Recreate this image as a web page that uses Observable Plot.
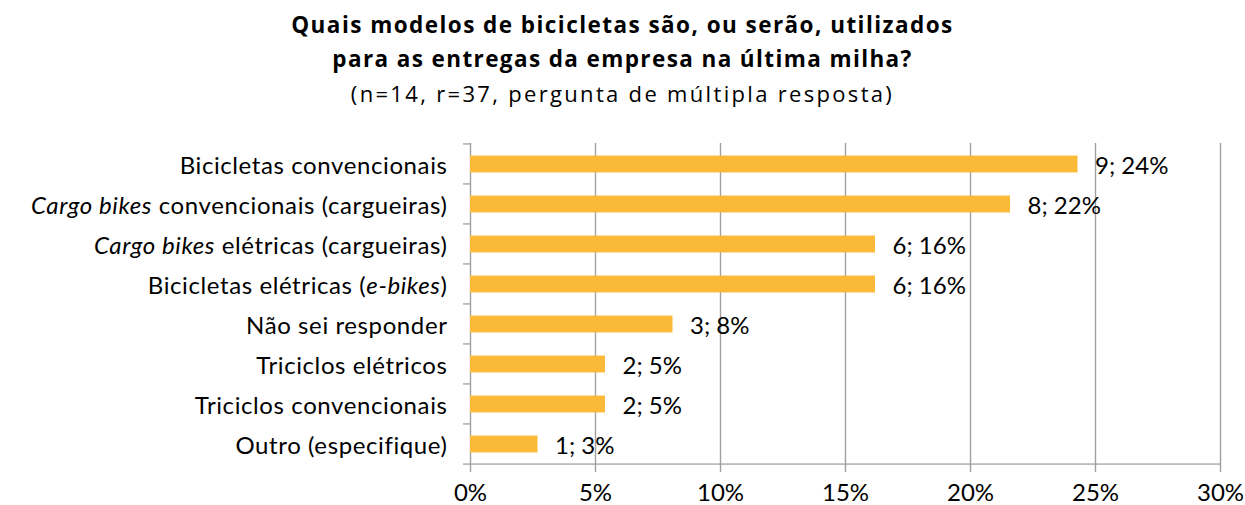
<!DOCTYPE html>
<html><head><meta charset="utf-8">
<script src="https://cdn.jsdelivr.net/npm/d3@7"></script>
<script src="https://cdn.jsdelivr.net/npm/@observablehq/plot@0.6"></script>
<style>
body{margin:0;background:#fff;font-family:Lato, sans-serif;color:#000;width:1245px;overflow:hidden}
#title{height:115px;text-align:center;box-sizing:border-box;padding-top:8.3px;font-family:"Open Sans", sans-serif}
#title .ln{display:block;line-height:34px;height:34px;white-space:nowrap}
#title .ln span{display:inline-block}
#title .b{font-weight:700;font-size:22.5px}
#title .r{font-weight:400;font-size:22px}
</style></head><body>
<div id="title">
  <div class="ln b"><span data-w="661">Quais modelos de bicicletas são, ou serão, utilizados</span></div>
  <div class="ln b"><span data-w="579">para as entregas da empresa na última milha?</span></div>
  <div class="ln r"><span data-w="541">(n=14, r=37, pergunta de múltipla resposta)</span></div>
</div>
<div id="chart"></div>
<script>
const categories = [
  "Bicicletas convencionais",
  "Cargo bikes convencionais (cargueiras)",
  "Cargo bikes elétricas (cargueiras)",
  "Bicicletas elétricas (e-bikes)",
  "Não sei responder",
  "Triciclos elétricos",
  "Triciclos convencionais",
  "Outro (especifique)"
];
const italicParts = ["Cargo bikes", "e-bikes"];
const counts = [9, 8, 6, 6, 3, 2, 2, 1];
const percents = [24.3, 21.6, 16.2, 16.2, 8.1, 5.4, 5.4, 2.7];
const pctLabels = [24, 22, 16, 16, 8, 5, 5, 3];
const xTicks = [0, 5, 10, 15, 20, 25, 30];

const data = categories.map((c, i) => ({cat: c, value: percents[i], label: `${counts[i]}; ${pctLabels[i]}%`}));

const W = 1245, H = 390, mT = 28, mB = 41, mL = 470, mR = 25;
const bw = (H - mT - mB) / categories.length;
const barH = 17;
const gray = "#a0a0a0";
const fs = 24;
const lw = 1.4;
const tickLen = 0.28; // in x units (percent)

const chart = Plot.plot({
  width: W, height: H,
  marginTop: mT, marginBottom: mB, marginLeft: mL, marginRight: mR,
  style: {fontFamily: "Lato, sans-serif", fontSize: fs + "px", color: "#000", background: "#fff"},
  x: {domain: [0, 30], axis: null},
  y: {domain: categories, padding: 0, axis: null},
  marks: [
    Plot.ruleX(xTicks.filter(d => d > 0), {stroke: gray, strokeWidth: lw}),
    Plot.ruleX([0], {stroke: gray, strokeWidth: lw}),
    // category boundary ticks on the y axis (top edge of each band)
    Plot.barX(categories, {y: d => d, x1: () => -tickLen, x2: () => 0, fill: gray, insetTop: -lw / 2, insetBottom: bw - lw / 2}),
    // bottom boundary: x-axis baseline, starting with a small tick left of the y axis
    Plot.barX([categories[categories.length - 1]], {y: d => d, x1: () => -tickLen, x2: () => 30, fill: gray, insetTop: bw - lw / 2, insetBottom: -lw / 2}),
    Plot.barX(data, {y: "cat", x: "value", fill: "#FBB93A", insetTop: (bw - barH) / 2, insetBottom: (bw - barH) / 2}),
    Plot.text(data, {y: "cat", x: "value", text: "label", textAnchor: "start", dx: 17, dy: 2, fill: "#000", fontSize: fs}),
    Plot.axisX({ticks: xTicks, label: null, tickSize: 8, tickPadding: 11, tickFormat: d => d + "%", stroke: gray, strokeWidth: lw, fill: "#000", fontSize: fs}),
    Plot.axisY({label: null, tickSize: 0, tickPadding: 23, dy: 1.5, fill: "#000", fontSize: fs})
  ]
});
document.getElementById("chart").appendChild(chart);

// Letter spacing of the category labels
d3.select(chart).selectAll('g[aria-label="y-axis tick label"] text').style("letter-spacing", "0.6px");

// Italicise the English/technical terms inside the category labels
const re = new RegExp("(" + italicParts.map(s => s.replace(/[-]/g, "\\-")).join("|") + ")");
d3.select(chart).selectAll('g[aria-label="y-axis tick label"] text').each(function() {
  const t = this.textContent;
  if (!re.test(t)) return;
  const parts = t.split(re).filter(p => p !== "");
  const sel = d3.select(this);
  sel.text(null);
  parts.forEach(p => {
    const ts = sel.append("tspan").text(p);
    if (italicParts.includes(p)) ts.attr("font-style", "italic");
  });
});

// Fit title lines to the widths of the original by letter spacing
document.querySelectorAll("#title span[data-w]").forEach(el => {
  const target = +el.dataset.w;
  const w = el.getBoundingClientRect().width;
  const n = el.textContent.length;
  el.style.letterSpacing = ((target - w) / (n - 1)) + "px";
});
</script>
</body></html>
